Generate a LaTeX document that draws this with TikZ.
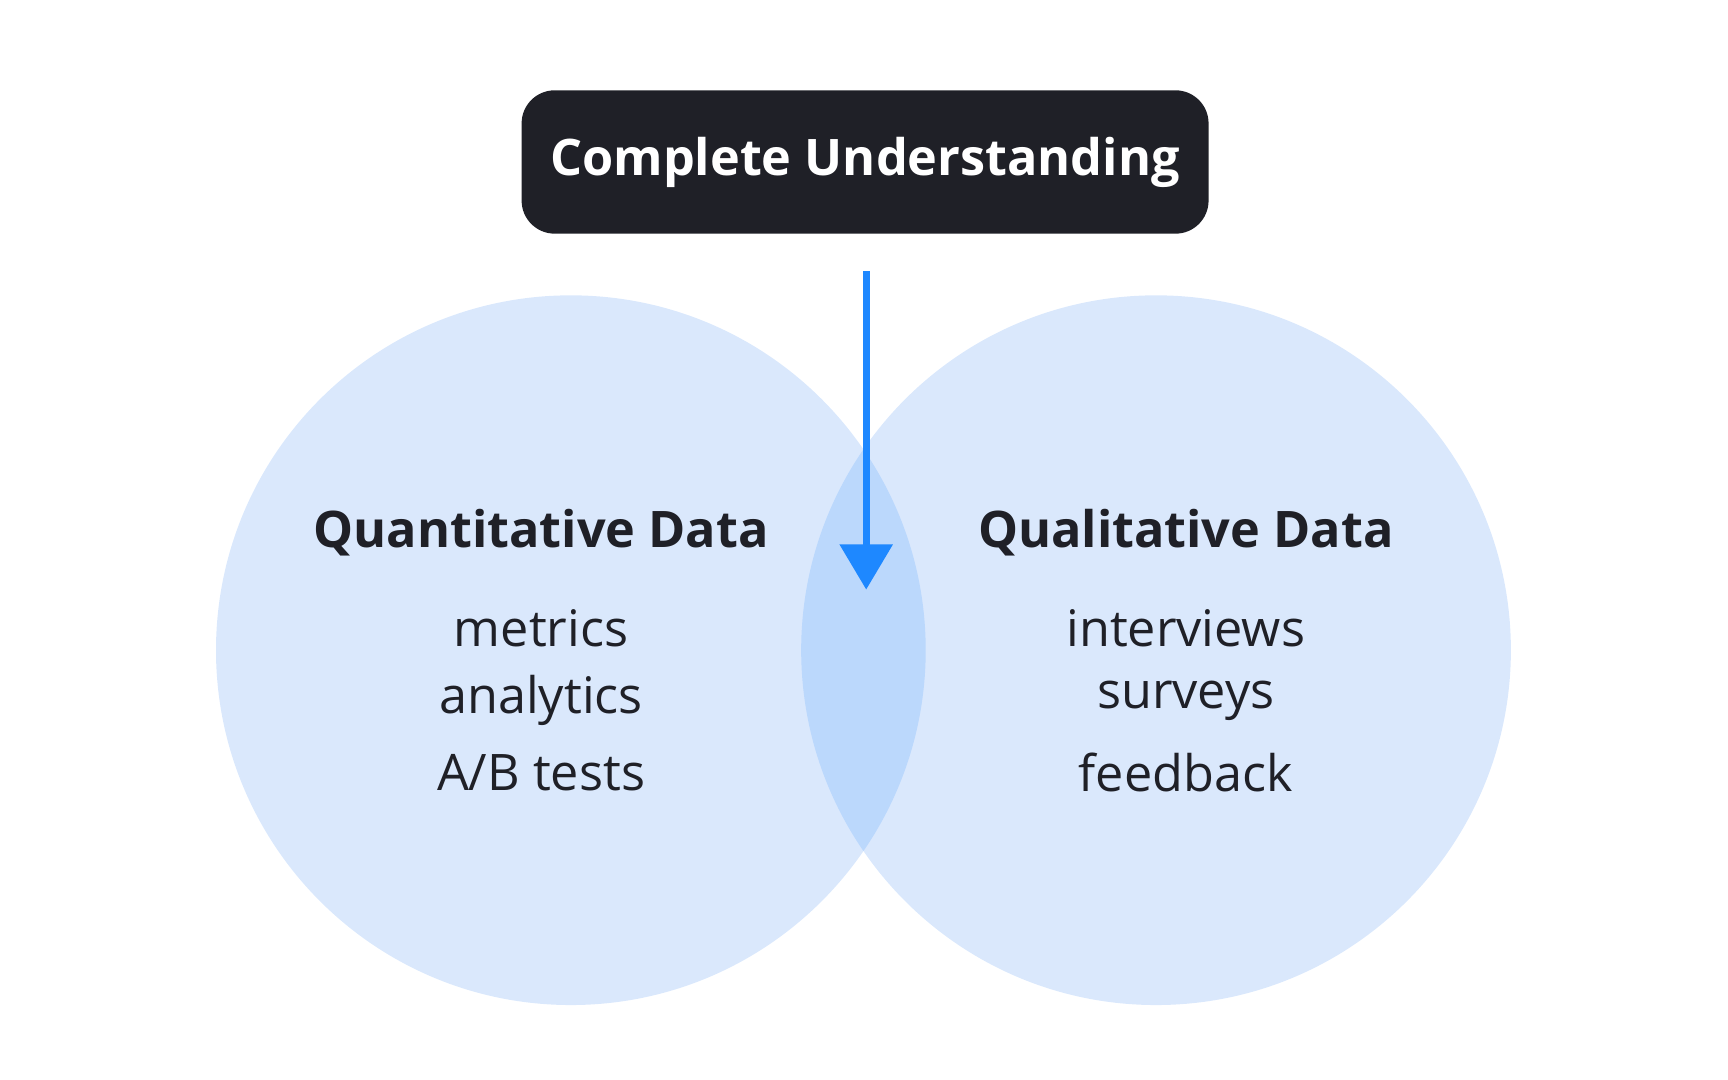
\documentclass[tikz,border=0pt]{standalone}
\usepackage{fontspec}
\setmainfont{Open Sans}
\usetikzlibrary{arrows.meta}
\definecolor{circ}{HTML}{DAE8FC}
\definecolor{inter}{HTML}{BBD8FC}
\definecolor{ink}{HTML}{1F2027}
\definecolor{arr}{HTML}{1E88FF}
\tikzset{
  head/.style={font=\fontsize{13}{16}\selectfont\bfseries, text=ink},
  item/.style={font=\fontsize{13}{16}\selectfont\mdseries, text=ink},
}
\begin{document}
\begin{tikzpicture}[x=0.01cm,y=-0.01cm]
\useasboundingbox (0,0) rectangle (1568,980);
\fill[circ] (518,590) circle (322);
\fill[circ] (1049,590) circle (322);
\begin{scope}
\clip (518,590) circle (322);
\fill[inter] (1049,590) circle (322);
\end{scope}
\node[fill=ink, rounded corners=0.3cm, minimum width=6.23cm, minimum height=1.3cm, text=white, font=\fontsize{13}{16}\selectfont\bfseries] (top) at (785,147) {Complete Understanding};
\coordinate (s) at (786,246);
\coordinate (e) at (786,535);
\draw[arr, line width=0.06cm, -{Triangle[width=0.47cm,length=0.41cm]}] (s) -- (e);
\node[head] (qn) at (491,483) {Quantitative Data};
\node[item] (m) at (491,570) {metrics};
\node[item] (a) at (491,636) {analytics};
\node[item] (ab) at (491,701) {A/B tests};
\node[head] (ql) at (1076,483) {Qualitative Data};
\node[item] (i) at (1076,570) {interviews};
\node[item] (su) at (1076,636) {surveys};
\node[item] (f) at (1076,701) {feedback};
\end{tikzpicture}
\end{document}
